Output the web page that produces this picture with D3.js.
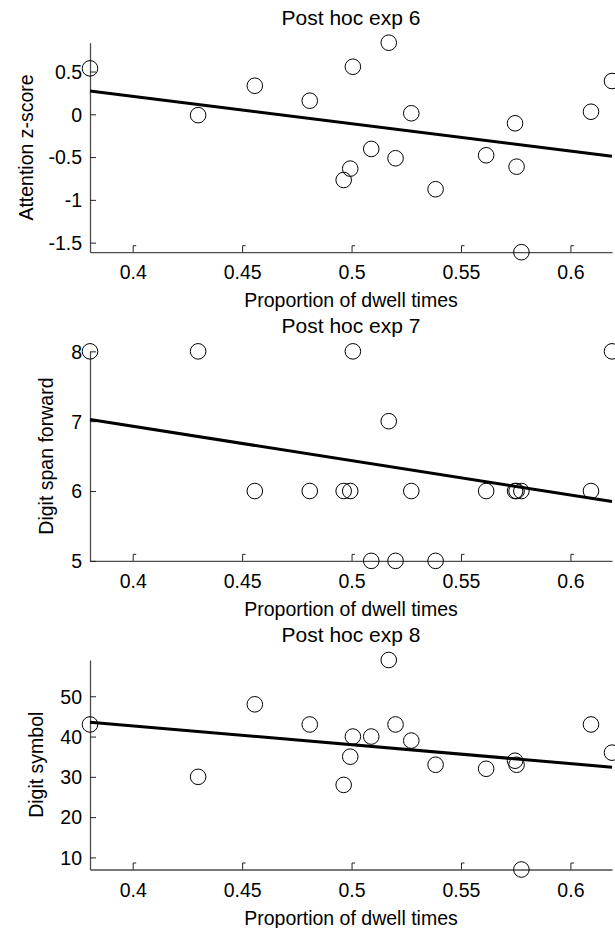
<!DOCTYPE html>
<html>
<head>
<meta charset="utf-8">
<script src="https://cdn.jsdelivr.net/npm/d3@7"></script>
<style>
  body { margin: 0; background: #fff; }
  svg { display: block; font-family: "Liberation Sans", Arial, sans-serif; }
</style>
</head>
<body>
<svg id="chart" width="615" height="928"></svg>
<script>
// proportion of dwell times, one value per participant (same order in all panels)
const dwell = [0.3805, 0.4299, 0.4558, 0.4809, 0.4964, 0.4994, 0.5006, 0.5090, 0.5170,
               0.5201, 0.5273, 0.5384, 0.5615, 0.5747, 0.5754, 0.5776, 0.6094, 0.6190];

const attention = [0.537, -0.010, 0.334, 0.159, -0.768, -0.635, 0.556, -0.405, 0.837,
                   -0.514, 0.012, -0.876, -0.479, -0.105, -0.612, -1.612, 0.030, 0.389];
const digitSpan = [8, 8, 6, 6, 6, 6, 8, 5, 7, 5, 6, 5, 6, 6, 6, 6, 6, 8];
const digitSymbol = [43, 30, 48, 43, 28, 35, 40, 40, 59, 43, 39, 33, 32, 34, 33, 7, 43, 36];

const xTicks = [0.4, 0.45, 0.5, 0.55, 0.6];
const attentionTicks = [-1.5, -1, -0.5, 0, 0.5];
const spanTicks = [5, 6, 7, 8];
const symbolTicks = [10, 20, 30, 40, 50];

const titles = ['Post hoc exp 6', 'Post hoc exp 7', 'Post hoc exp 8'];
const yLabels = ['Attention z-score', 'Digit span forward', 'Digit symbol'];
const xLabel = 'Proportion of dwell times';

const panels = [
    { title: titles[0], yLabel: yLabels[0], values: attention, yTicks: attentionTicks, labelX: 33 },
    { title: titles[1], yLabel: yLabels[1], values: digitSpan, yTicks: spanTicks, labelX: 53 },
    { title: titles[2], yLabel: yLabels[2], values: digitSymbol, yTicks: symbolTicks, labelX: 43 }
];

const left = 90, width = 522, height = 209.5;
const top0 = 42.7, step = 308.65;
const axisColor = '#4d4d4d';

const svg = d3.select('#chart');

// least squares fit
function fit(xs, ys) {
    const mx = d3.mean(xs), my = d3.mean(ys);
    let sxy = 0, sxx = 0;
    xs.forEach((x, i) => { sxy += (x - mx) * (ys[i] - my); sxx += (x - mx) * (x - mx); });
    const b = sxy / sxx;
    return { slope: b, intercept: my - b * mx };
}

panels.forEach((p, i) => {
    const g = svg.append('g')
        .attr('transform', `translate(${left},${top0 + i * step})`);

    const x = d3.scaleLinear().domain(d3.extent(dwell)).range([0, width]);
    const y = d3.scaleLinear().domain(d3.extent(p.values)).range([height, 0]);

    // axes
    const xAxis = g.append('g')
        .attr('transform', `translate(0,${height})`)
        .call(d3.axisBottom(x).tickValues(xTicks).tickFormat(d => String(d))
            .tickSizeInner(0).tickSizeOuter(0));
    const yAxis = g.append('g')
        .call(d3.axisLeft(y).tickValues(p.yTicks).tickFormat(d => String(d))
            .tickSizeInner(0).tickSizeOuter(0));

    xAxis.select('.domain').attr('stroke', axisColor).attr('stroke-width', 1.3);
    yAxis.select('.domain').attr('stroke', axisColor).attr('stroke-width', 1.3);

    // matlab style inner ticks with a little hook
    xAxis.selectAll('.tick').append('path')
        .attr('d', 'M0,0V-6.5H3')
        .attr('fill', 'none')
        .attr('stroke', '#222')
        .attr('stroke-width', 1);
    yAxis.selectAll('.tick').append('path')
        .attr('d', 'M0,0H6')
        .attr('fill', 'none')
        .attr('stroke', '#222')
        .attr('stroke-width', 1);

    xAxis.selectAll('text')
        .attr('y', 27).attr('dy', 0)
        .attr('font-size', '19.5px')
        .attr('font-family', null)
        .attr('fill', '#000');
    yAxis.selectAll('text')
        .attr('x', -8).attr('dy', '0.35em')
        .attr('font-size', '19.5px')
        .attr('font-family', null)
        .attr('fill', '#000');

    // points
    g.append('g').selectAll('circle')
        .data(dwell.map((d, k) => ({ x: d, y: p.values[k] })))
        .join('circle')
        .attr('cx', d => x(d.x))
        .attr('cy', d => y(d.y))
        .attr('r', 7.8)
        .attr('fill', 'none')
        .attr('stroke', '#000')
        .attr('stroke-width', 1);

    // regression line
    const f = fit(dwell, p.values);
    const xd = x.domain();
    g.append('line')
        .attr('x1', x(xd[0]))
        .attr('y1', y(f.intercept + f.slope * xd[0]))
        .attr('x2', x(xd[1]))
        .attr('y2', y(f.intercept + f.slope * xd[1]))
        .attr('stroke', '#000')
        .attr('stroke-width', 3);

    // labels
    g.append('text')
        .attr('x', width / 2)
        .attr('y', -18)
        .attr('text-anchor', 'middle')
        .attr('font-size', '21px')
        .text(p.title);
    g.append('text')
        .attr('x', width / 2)
        .attr('y', height + 55)
        .attr('text-anchor', 'middle')
        .attr('font-size', '19.5px')
        .text(xLabel);
    g.append('text')
        .attr('transform', `translate(${p.labelX - left},${height / 2}) rotate(-90)`)
        .attr('text-anchor', 'middle')
        .attr('font-size', '19.5px')
        .text(p.yLabel);
});
</script>
</body>
</html>
